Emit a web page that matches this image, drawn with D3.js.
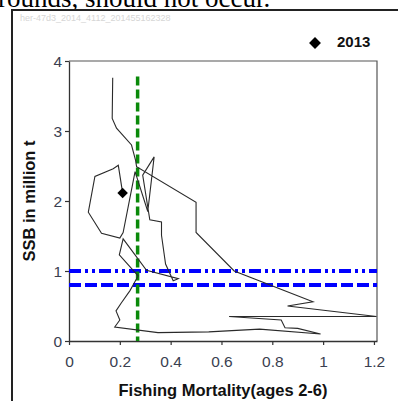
<!DOCTYPE html>
<html>
<head>
<meta charset="utf-8">
<script src="https://cdn.jsdelivr.net/npm/d3@7"></script>
<style>
  body { margin: 0; background: #fff; }
  svg { display: block; }
</style>
</head>
<body>
<div class="chart"></div>
<script>
// stock trajectory, one point per year (F ages 2-6, SSB in million t)
const fishingMortality = [0.172, 0.170, 0.187, 0.246, 0.262, 0.266, 0.50, 0.50, 0.65, 0.96, 0.86, 1.21, 0.63, 0.835, 0.85, 0.90, 0.99, 0.75, 0.55, 0.35, 0.18, 0.20, 0.185, 0.205, 0.24, 0.272, 0.198, 0.213, 0.305, 0.43, 0.41, 0.38, 0.364, 0.364, 0.318, 0.29, 0.335, 0.31, 0.26, 0.213, 0.20, 0.128, 0.076, 0.102, 0.174, 0.194, 0.211];
const ssb = [3.76, 3.18, 3.04, 2.80, 2.58, 2.49, 1.98, 1.55, 1.00, 0.56, 0.50, 0.35, 0.35, 0.30, 0.19, 0.18, 0.10, 0.17, 0.13, 0.12, 0.20, 0.30, 0.43, 0.54, 0.72, 0.93, 1.23, 1.46, 1.01, 0.89, 0.86, 1.10, 1.51, 1.70, 1.73, 2.37, 2.63, 1.85, 2.42, 1.55, 1.47, 1.54, 1.84, 2.35, 2.46, 2.51, 2.115];
const lastYear = 2013;

// reference points
const fmsy = 0.27;
const fmsyTop = 3.78;
const blim = 0.8;
const btrigger = 1.0;

const xTicks = [0, 0.2, 0.4, 0.6, 0.8, 1, 1.2];
const yTicks = [0, 1, 2, 3, 4];

const width = 398, height = 401;
const svg = d3.select('.chart')
  .append('svg')
    .attr('width', width)
    .attr('height', height);

// bits of the surrounding document
svg.append('text')
  .attr('x', -2).attr('y', 7)
  .attr('font-family', '"Liberation Serif", "Times New Roman", serif')
  .attr('font-size', 27)
  .attr('fill', '#000')
  .text('rounds, should not occur.');

svg.append('path')
  .attr('d', `M12,${height}V10H${width}`)
  .attr('fill', 'none')
  .attr('stroke', '#222')
  .attr('stroke-width', 2);

svg.append('text')
  .attr('x', 20).attr('y', 21)
  .attr('font-family', '"Liberation Sans", Arial, sans-serif')
  .attr('font-size', 9)
  .attr('fill', '#d6d6d6')
  .text('her-47d3_2014_4112_201455162328');

// plot area
const margin = {top: 61, right: 21, bottom: 60, left: 69};
const graphWidth = width - margin.left - margin.right;
const graphHeight = height - margin.top - margin.bottom;

const x = d3.scaleLinear().domain([0, 1.212]).range([0, graphWidth]);
const y = d3.scaleLinear().domain([0, 4]).range([graphHeight, 0]);

const graph = svg.append('g')
  .attr('transform', `translate(${margin.left}, ${margin.top})`);

// frame (top + right)
graph.append('path')
  .attr('d', `M0,0H${graphWidth}V${graphHeight}`)
  .attr('fill', 'none')
  .attr('stroke', '#555')
  .attr('stroke-width', 1.2);

// axes
const xAxis = d3.axisBottom(x).tickValues(xTicks).tickSize(4).tickSizeOuter(0).tickFormat(d => String(d));
const yAxis = d3.axisLeft(y).tickValues(yTicks).tickSize(4).tickSizeOuter(0).tickFormat(d => String(d));

const xAxisGroup = graph.append('g')
  .attr('transform', `translate(0, ${graphHeight})`)
  .call(xAxis);
const yAxisGroup = graph.append('g').call(yAxis);

[xAxisGroup, yAxisGroup].forEach(g => {
  g.select('.domain').attr('stroke', '#333').attr('stroke-width', 1.3);
  g.selectAll('.tick line').attr('stroke', '#333').attr('stroke-width', 1.2);
  g.selectAll('text')
    .attr('font-family', '"Liberation Sans", Arial, sans-serif')
    .attr('font-size', 15.5)
    .attr('fill', '#3a4050');
});
xAxisGroup.selectAll('text').attr('y', 15);
yAxisGroup.selectAll('text').attr('x', -7).attr('dy', '0.36em');

// reference lines
graph.append('line')
  .attr('x1', 0).attr('x2', graphWidth)
  .attr('y1', y(btrigger)).attr('y2', y(btrigger))
  .attr('stroke', '#0000ff').attr('stroke-width', 4)
  .attr('stroke-dasharray', '12,4,3,4,3,4');

graph.append('line')
  .attr('x1', 0).attr('x2', graphWidth)
  .attr('y1', y(blim)).attr('y2', y(blim))
  .attr('stroke', '#0000ff').attr('stroke-width', 4)
  .attr('stroke-dasharray', '12,4');

graph.append('line')
  .attr('x1', x(fmsy)).attr('x2', x(fmsy))
  .attr('y1', y(fmsyTop)).attr('y2', y(0))
  .attr('stroke', '#0a8a0a').attr('stroke-width', 3.5)
  .attr('stroke-dasharray', '9,4');

// trajectory
const points = fishingMortality.map((f, i) => [f, ssb[i]]);
graph.append('path')
  .datum(points)
  .attr('d', d3.line().x(d => x(d[0])).y(d => y(d[1])))
  .attr('fill', 'none')
  .attr('stroke', '#2a2a2a')
  .attr('stroke-width', 1.1)
  .attr('stroke-linejoin', 'miter');

// last year marker
const last = points[points.length - 1];
const diamond = d3.symbol().type(d3.symbolDiamond2).size(70);
graph.append('path')
  .attr('d', diamond())
  .attr('transform', `translate(${x(last[0])}, ${y(last[1])})`)
  .attr('fill', '#000');

// legend
svg.append('path')
  .attr('d', d3.symbol().type(d3.symbolDiamond2).size(90)())
  .attr('transform', 'translate(315, 43)')
  .attr('fill', '#000');
svg.append('text')
  .attr('x', 337).attr('y', 47)
  .attr('font-family', '"Liberation Sans", Arial, sans-serif')
  .attr('font-weight', 'bold')
  .attr('font-size', 15)
  .attr('fill', '#111')
  .text(lastYear);

// axis titles
svg.append('text')
  .attr('x', margin.left + graphWidth / 2).attr('y', 396)
  .attr('text-anchor', 'middle')
  .attr('font-family', '"Liberation Sans", Arial, sans-serif')
  .attr('font-weight', 'bold')
  .attr('font-size', 16.5)
  .attr('fill', '#111')
  .text('Fishing Mortality(ages 2-6)');

svg.append('text')
  .attr('transform', `translate(35, ${margin.top + graphHeight / 2}) rotate(-90)`)
  .attr('text-anchor', 'middle')
  .attr('font-family', '"Liberation Sans", Arial, sans-serif')
  .attr('font-weight', 'bold')
  .attr('font-size', 16.5)
  .attr('fill', '#111')
  .text('SSB in million t');
</script>
</body>
</html>
